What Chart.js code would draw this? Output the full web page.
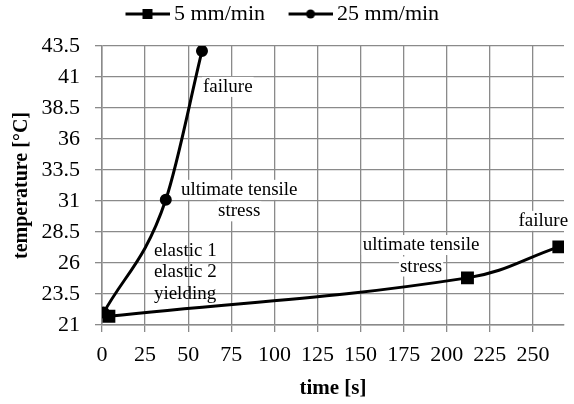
<!DOCTYPE html>
<html lang="en">

<head>
    <meta charset="UTF-8">
    <title>temperature vs time</title>
    <style>
        html, body { margin: 0; padding: 0; background: #fff; overflow: hidden; }
        #wrap { width: 574px; height: 404px; position: relative; }
    </style>
</head>

<body>
    <div id="wrap"><canvas id="myChart"></canvas></div>
    <script src="https://cdn.jsdelivr.net/npm/chart.js"></script>
    <script>
        // chart values
        const seriesNames = ['5 mm/min', '25 mm/min'];
        const slowTime = [4, 212, 265];
        const slowTemp = [21.7, 24.8, 27.3];
        const fastTime = [1, 37, 58];
        const fastTemp = [22.0, 31.1, 43.1];
        const xTicks = [0, 25, 50, 75, 100, 125, 150, 175, 200, 225, 250];
        const yTicks = [21, 23.5, 26, 28.5, 31, 33.5, 36, 38.5, 41, 43.5];

        // text notes placed at data coordinates
        const notes = [
            { lines: ['failure'], x: 58.6, y: 40.2, align: 'left', box: true },
            { lines: ['ultimate tensile', 'stress'], x: 79.6, y: 31.9, align: 'center', box: true },
            { lines: ['elastic 1', 'elastic 2', 'yielding'], x: 30.1, y: 27.0, align: 'left', box: false },
            { lines: ['ultimate tensile', 'stress'], x: 185.1, y: 27.45, align: 'center', box: true },
            { lines: ['failure'], x: 241.6, y: 29.4, align: 'left', box: true }
        ];

        const serif = "'Liberation Serif', 'Times New Roman', serif";

        let toPoints = (xs, ys) => xs.map((x, i) => ({ x: x, y: ys[i] }));

        // legend swatch: line with marker, drawn on a small canvas
        let makeSwatch = (marker) => {
            const c = document.createElement('canvas');
            c.width = 71;
            c.height = 20;
            const g = c.getContext('2d');
            g.strokeStyle = '#000';
            g.fillStyle = '#000';
            g.lineWidth = 3;
            g.beginPath();
            g.moveTo(27, 10);
            g.lineTo(71, 10);
            g.stroke();
            if (marker === 'rect') {
                g.fillRect(44, 5, 10, 10);
            } else {
                g.beginPath();
                g.arc(49, 10, 4.5, 0, Math.PI * 2);
                g.fill();
            }
            return c;
        };
        const swatches = [makeSwatch('rect'), makeSwatch('circle')];

        const notePlugin = {
            id: 'notes',
            beforeDatasetsDraw(chart) {
                const ctx = chart.ctx;
                const xs = chart.scales.x;
                const ys = chart.scales.y;
                ctx.save();
                ctx.font = '19px ' + serif;
                ctx.textBaseline = 'middle';
                notes.forEach(n => {
                    const px = xs.getPixelForValue(n.x);
                    const py = ys.getPixelForValue(n.y);
                    n.lines.forEach((t, i) => {
                        const w = ctx.measureText(t).width;
                        const y = py + i * 21.5;
                        const left = n.align === 'center' ? px - w / 2 : px;
                        if (n.box) {
                            ctx.fillStyle = '#fff';
                            ctx.fillRect(left - 1, y - 10, w + 2, 20);
                        }
                        ctx.fillStyle = '#000';
                        ctx.textAlign = 'left';
                        ctx.fillText(t, left, y);
                    });
                });
                ctx.restore();
            }
        };

        const gridColor = '#8a8a8a';

        const data = {
            datasets: [{
                label: seriesNames[0],
                data: toPoints(slowTime, slowTemp),
                borderColor: '#000',
                backgroundColor: '#000',
                borderWidth: 3,
                pointStyle: 'rect',
                pointRadius: 7,
                tension: 0.4
            }, {
                label: seriesNames[1],
                data: toPoints(fastTime, fastTemp),
                borderColor: '#000',
                backgroundColor: '#000',
                borderWidth: 3,
                pointStyle: 'circle',
                pointRadius: 4.5,
                cubicInterpolationMode: 'monotone'
            }]
        };

        const config = {
            type: 'line',
            data: data,
            plugins: [notePlugin],
            options: {
                responsive: true,
                maintainAspectRatio: false,
                animation: false,
                layout: { padding: 0 },
                plugins: {
                    tooltip: { enabled: false },
                    legend: {
                        position: 'top',
                        align: 'start',
                        fullSize: false,
                        labels: {
                            usePointStyle: true,
                            pointStyleWidth: 58,
                            padding: 3,
                            color: '#000',
                            font: { family: serif, size: 22 },
                            generateLabels: () => seriesNames.map((name, i) => ({
                                text: name,
                                pointStyle: swatches[i],
                                fillStyle: '#000',
                                strokeStyle: '#000',
                                lineWidth: 0,
                                fontColor: '#000',
                                datasetIndex: i
                            }))
                        }
                    },
                    // empty spacer between legend and plot
                    title: {
                        display: true,
                        text: '',
                        weight: 500,
                        font: { size: 11, lineHeight: 1 },
                        padding: 0
                    }
                },
                scales: {
                    x: {
                        type: 'linear',
                        min: 0,
                        max: 268,
                        afterBuildTicks: axis => { axis.ticks = xTicks.map(v => ({ value: v })); },
                        afterFit: axis => { axis.height = 79; },
                        grid: { color: gridColor, lineWidth: 1.3, tickLength: 7, tickColor: gridColor },
                        border: { color: gridColor, width: 1.5 },
                        ticks: {
                            color: '#000',
                            padding: 10,
                            maxRotation: 0,
                            font: { family: serif, size: 22 }
                        },
                        title: {
                            display: true,
                            text: 'time [s]',
                            color: '#000',
                            padding: { top: 0, bottom: 3 },
                            font: { family: serif, size: 21, weight: 'bold' }
                        }
                    },
                    y: {
                        min: 21,
                        max: 43.5,
                        afterBuildTicks: axis => { axis.ticks = yTicks.map(v => ({ value: v })); },
                        afterFit: axis => { axis.width = 102; },
                        grid: { color: gridColor, lineWidth: 1.3, tickLength: 7, tickColor: gridColor },
                        border: { color: gridColor, width: 1.5 },
                        ticks: {
                            color: '#000',
                            padding: 15,
                            font: { family: serif, size: 22 }
                        },
                        title: {
                            display: true,
                            text: 'temperature [°C]',
                            color: '#000',
                            padding: { top: 10, bottom: 0 },
                            font: { family: serif, size: 20, weight: 'bold' }
                        }
                    }
                }
            }
        };

        const myChart = new Chart(document.getElementById('myChart'), config);
    </script>
</body>

</html>
